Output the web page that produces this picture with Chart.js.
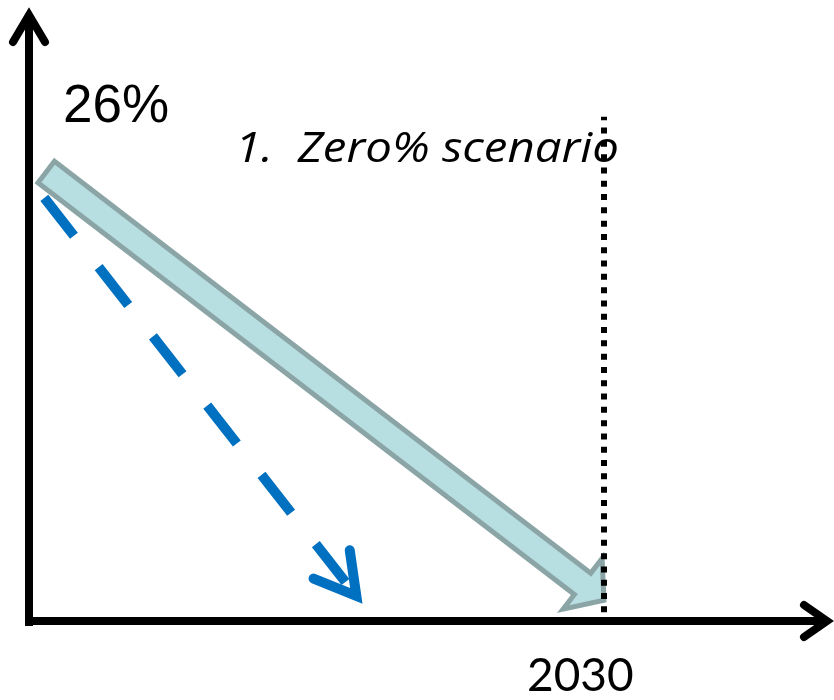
<!DOCTYPE html>
<html>
<head>
<meta charset="utf-8">
<script src="https://cdn.jsdelivr.net/npm/chart.js@4.4.1/dist/chart.umd.min.js"></script>
<style>
  body { margin: 0; background: #fff; }
</style>
</head>
<body>
<canvas id="scenarioChart" width="834" height="700"></canvas>
<script>
const ctx = document.getElementById('scenarioChart').getContext('2d');

// zero% scenario: straight decline from 26% down to 2030
const zeroYears = [2015.45, 2030];
const zeroShare = [26, 1.2];

// faster decline (dashed)
const fastYears = [2015.4, 2023.7];
const fastShare = [24.5, 1];

// target year marker
const targetYear = 2030;
const markerShare = [0.5, 29.2];

const scenarioTitle = '1.  Zero% scenario';

function toPoints(xs, ys) {
    return xs.map((x, i) => ({ x: x, y: ys[i] }));
}

function unit(a, b) {
    const dx = b.x - a.x, dy = b.y - a.y;
    const len = Math.hypot(dx, dy);
    return { x: dx / len, y: dy / len };
}

// axes with arrow heads + labels, under the data
const axesPlugin = {
    id: 'axesAndLabels',
    beforeDatasetsDraw(chart) {
        const c = chart.ctx;
        const xs = chart.scales.x, ys = chart.scales.y;
        const x0 = xs.getPixelForValue(xs.min);
        const y0 = ys.getPixelForValue(0);
        c.save();
        c.strokeStyle = '#000';
        c.lineWidth = 8;
        c.lineCap = 'butt';
        c.beginPath();
        c.moveTo(x0, y0 + 5);
        c.lineTo(x0, 16);
        c.moveTo(x0 - 4, y0);
        c.lineTo(826, y0);
        c.stroke();

        c.lineCap = 'round';
        c.lineJoin = 'miter';
        c.beginPath();
        c.moveTo(x0 - 16, 42);
        c.lineTo(x0, 15);
        c.lineTo(x0 + 16, 42);
        c.stroke();
        c.beginPath();
        c.moveTo(804, y0 - 16);
        c.lineTo(827, y0);
        c.lineTo(804, y0 + 16);
        c.stroke();

        c.fillStyle = '#000';
        c.textBaseline = 'alphabetic';
        c.textAlign = 'left';
        c.font = '53px "Liberation Sans", Arial, sans-serif';
        c.fillText(zeroShare[0] + '%', x0 + 34, ys.getPixelForValue(zeroShare[0]) - 50);

        // title is set in a narrow italic face, so stretch to its box width
        c.font = 'italic 42px "Open Sans", sans-serif';
        const w = c.measureText(scenarioTitle).width;
        c.save();
        c.translate(235, 162);
        c.scale(384 / w, 1);
        c.fillText(scenarioTitle, 0, 0);
        c.restore();

        c.font = '46px Lato, sans-serif';
        c.fillText(String(targetYear), xs.getPixelForValue(targetYear) - 77, 691);
        c.restore();
    },
    afterDatasetDraw(chart, args) {
        const c = chart.ctx;
        const pts = args.meta.data;
        if (args.index === 1) {
            // thick block arrow for the zero% path
            const S = pts[0], T = pts[1];
            const u = unit(S, T);
            const n = { x: -u.y, y: u.x };
            const sh = 13.5, hh = 32, hl = 27;
            const B = { x: T.x - u.x * hl, y: T.y - u.y * hl };
            c.save();
            c.beginPath();
            c.moveTo(S.x + n.x * sh, S.y + n.y * sh);
            c.lineTo(B.x + n.x * sh, B.y + n.y * sh);
            c.lineTo(B.x + n.x * hh, B.y + n.y * hh);
            c.lineTo(T.x, T.y);
            c.lineTo(B.x - n.x * hh, B.y - n.y * hh);
            c.lineTo(B.x - n.x * sh, B.y - n.y * sh);
            c.lineTo(S.x - n.x * sh, S.y - n.y * sh);
            c.closePath();
            c.fillStyle = '#B7DEE1';
            c.fill();
            c.lineWidth = 5;
            c.lineJoin = 'miter';
            c.strokeStyle = '#8BA5A7';
            c.stroke();
            c.restore();
        } else if (args.index === 2) {
            // open arrow head at the end of the dashed line
            const S = pts[0], T = pts[1];
            const u = unit(S, T);
            const n = { x: -u.y, y: u.x };
            const J = { x: T.x - u.x * 10, y: T.y - u.y * 10 };
            c.save();
            c.strokeStyle = '#0070C0';
            c.lineWidth = 10;
            c.lineCap = 'round';
            c.lineJoin = 'miter';
            c.beginPath();
            c.moveTo(J.x - u.x * 40 + n.x * 23, J.y - u.y * 40 + n.y * 23);
            c.lineTo(J.x, J.y);
            c.lineTo(J.x - u.x * 40 - n.x * 23, J.y - u.y * 40 - n.y * 23);
            c.stroke();
            c.restore();
        }
    }
};

new Chart(ctx, {
    type: 'line',
    data: {
        datasets: [
            {
                label: 'Target year',
                data: toPoints([targetYear, targetYear], markerShare),
                borderColor: '#000',
                borderWidth: 6,
                borderDash: [6, 7.3],
                borderCapStyle: 'butt',
                pointRadius: 0,
                order: 0
            },
            {
                label: 'Zero% scenario',
                data: toPoints(zeroYears, zeroShare),
                showLine: false,
                pointRadius: 0,
                order: 1
            },
            {
                label: 'Faster decline',
                data: toPoints(fastYears, fastShare),
                borderColor: '#0070C0',
                borderWidth: 10,
                borderDash: [48, 40],
                borderCapStyle: 'butt',
                pointRadius: 0,
                order: 2
            }
        ]
    },
    options: {
        responsive: false,
        animation: false,
        layout: {
            padding: { left: 29, right: 0, top: 8, bottom: 79 }
        },
        plugins: {
            legend: { display: false },
            tooltip: { enabled: false }
        },
        scales: {
            x: { type: 'linear', min: 2015, max: 2036, display: false },
            y: { type: 'linear', min: 0, max: 35.5, display: false }
        }
    },
    plugins: [axesPlugin]
});
</script>
</body>
</html>
